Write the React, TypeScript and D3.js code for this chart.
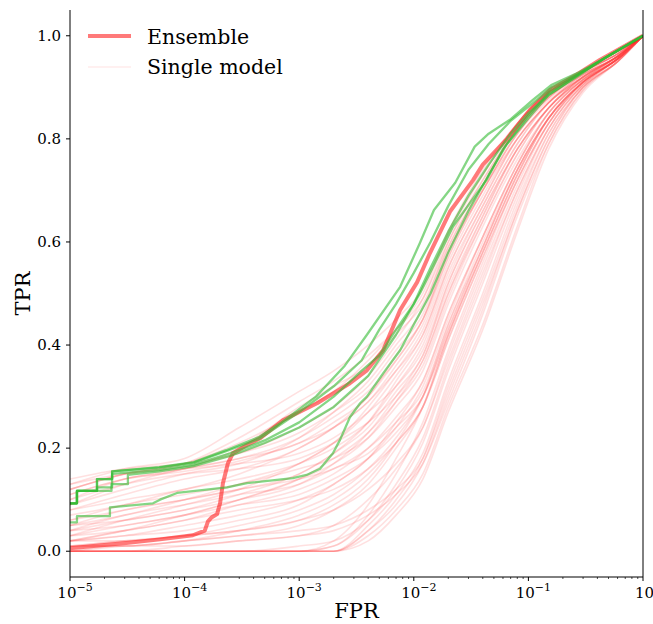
import React from "react";
import * as d3 from "d3";

// FPR grid used by the single-model curves
const fprGrid = [1e-5, 3e-5, 1e-4, 3e-4, 1e-3, 2e-3, 4e-3, 7e-3, 1.2e-2, 2e-2, 4e-2, 8e-2, 0.15, 0.3, 0.6, 1];

// TPR values of single models on fprGrid
const singleModels: number[][] = [
  [0.12,0.15,0.165,0.19,0.24,0.28,0.34,0.41,0.49,0.61,0.73,0.83,0.89,0.93,0.965,1],
  [0.10,0.14,0.16,0.18,0.22,0.26,0.31,0.37,0.45,0.58,0.70,0.81,0.88,0.925,0.96,1],
  [0.11,0.14,0.155,0.175,0.21,0.24,0.29,0.35,0.42,0.55,0.68,0.80,0.87,0.92,0.96,1],
  [0.09,0.12,0.15,0.17,0.22,0.27,0.33,0.40,0.47,0.60,0.72,0.82,0.885,0.93,0.965,1],
  [0.13,0.15,0.16,0.17,0.19,0.22,0.27,0.32,0.39,0.52,0.66,0.78,0.86,0.92,0.96,1],
  [0.08,0.11,0.14,0.16,0.20,0.24,0.29,0.36,0.44,0.57,0.70,0.81,0.875,0.925,0.96,1],
  [0.12,0.15,0.17,0.21,0.27,0.31,0.37,0.43,0.50,0.62,0.74,0.83,0.89,0.93,0.965,1],
  [0.10,0.13,0.15,0.16,0.18,0.21,0.25,0.30,0.37,0.50,0.64,0.77,0.86,0.915,0.96,1],
  [0.14,0.16,0.17,0.19,0.23,0.27,0.32,0.39,0.46,0.59,0.71,0.82,0.88,0.93,0.965,1],
  [0.09,0.13,0.16,0.18,0.21,0.25,0.30,0.38,0.45,0.58,0.70,0.80,0.87,0.92,0.96,1],
  [0.13,0.16,0.18,0.24,0.31,0.35,0.40,0.45,0.51,0.62,0.73,0.83,0.89,0.93,0.965,1],
  [0.12,0.15,0.17,0.22,0.29,0.33,0.38,0.43,0.49,0.60,0.72,0.82,0.885,0.93,0.965,1],
  [0.11,0.14,0.16,0.20,0.28,0.32,0.36,0.42,0.48,0.59,0.71,0.82,0.88,0.93,0.965,1],
  [0.05,0.07,0.10,0.13,0.17,0.21,0.27,0.34,0.42,0.55,0.68,0.80,0.87,0.925,0.96,1],
  [0.04,0.06,0.08,0.11,0.15,0.19,0.24,0.31,0.38,0.52,0.66,0.78,0.86,0.92,0.96,1],
  [0.06,0.09,0.11,0.13,0.16,0.18,0.22,0.28,0.35,0.48,0.63,0.76,0.85,0.915,0.96,1],
  [0.03,0.05,0.07,0.10,0.14,0.17,0.22,0.29,0.37,0.50,0.65,0.78,0.86,0.92,0.96,1],
  [0.07,0.09,0.12,0.14,0.17,0.20,0.25,0.32,0.40,0.53,0.67,0.79,0.87,0.92,0.96,1],
  [0.02,0.04,0.06,0.09,0.12,0.15,0.20,0.26,0.33,0.46,0.61,0.75,0.85,0.915,0.955,1],
  [0.05,0.08,0.10,0.12,0.14,0.16,0.20,0.25,0.31,0.44,0.60,0.74,0.84,0.91,0.955,1],
  [0.03,0.06,0.09,0.12,0.17,0.21,0.28,0.35,0.43,0.56,0.69,0.80,0.87,0.925,0.96,1],
  [0.04,0.05,0.07,0.09,0.11,0.14,0.18,0.23,0.30,0.43,0.59,0.74,0.84,0.91,0.955,1],
  [0.06,0.08,0.10,0.12,0.15,0.19,0.25,0.33,0.41,0.54,0.67,0.79,0.87,0.92,0.96,1],
  [0.02,0.03,0.05,0.07,0.10,0.13,0.18,0.24,0.32,0.45,0.61,0.75,0.85,0.915,0.955,1],
  [0.04,0.07,0.09,0.11,0.13,0.16,0.19,0.24,0.30,0.42,0.58,0.73,0.84,0.91,0.955,1],
  [0.08,0.10,0.12,0.15,0.20,0.24,0.30,0.37,0.45,0.57,0.70,0.81,0.88,0.925,0.96,1],
  [0.03,0.04,0.06,0.08,0.10,0.12,0.16,0.21,0.28,0.41,0.57,0.72,0.83,0.91,0.955,1],
  [0.05,0.06,0.08,0.10,0.13,0.17,0.23,0.30,0.38,0.51,0.65,0.78,0.86,0.92,0.96,1],
  [0.02,0.04,0.07,0.10,0.14,0.18,0.23,0.29,0.36,0.49,0.64,0.77,0.86,0.915,0.96,1],
  [0.01,0.02,0.03,0.05,0.08,0.11,0.16,0.22,0.30,0.43,0.59,0.74,0.84,0.91,0.955,1],
  [0.01,0.01,0.02,0.03,0.05,0.08,0.13,0.20,0.28,0.42,0.58,0.73,0.84,0.91,0.955,1],
  [0.00,0.01,0.02,0.04,0.07,0.10,0.15,0.21,0.28,0.41,0.57,0.72,0.83,0.91,0.955,1],
  [0.02,0.02,0.03,0.04,0.06,0.08,0.12,0.17,0.24,0.37,0.54,0.70,0.82,0.905,0.955,1],
  [0.00,0.00,0.00,0.00,0.00,0.02,0.09,0.18,0.28,0.42,0.58,0.73,0.84,0.91,0.955,1],
  [0.00,0.00,0.00,0.00,0.00,0.01,0.07,0.15,0.25,0.39,0.56,0.72,0.83,0.91,0.955,1],
  [0.00,0.00,0.00,0.00,0.00,0.01,0.06,0.13,0.22,0.36,0.53,0.70,0.82,0.905,0.955,1],
  [0.00,0.00,0.00,0.00,0.00,0.00,0.05,0.11,0.19,0.33,0.50,0.68,0.81,0.90,0.95,1],
  [0.00,0.00,0.00,0.00,0.00,0.00,0.04,0.09,0.17,0.30,0.47,0.66,0.80,0.90,0.95,1],
  [0.01,0.01,0.02,0.03,0.04,0.05,0.08,0.12,0.18,0.31,0.48,0.66,0.80,0.90,0.95,1],
  [0.00,0.00,0.01,0.02,0.03,0.04,0.07,0.11,0.17,0.29,0.46,0.65,0.79,0.895,0.95,1],
  [0.02,0.03,0.04,0.06,0.09,0.13,0.18,0.25,0.33,0.46,0.61,0.75,0.85,0.915,0.955,1],
  [0.00,0.00,0.00,0.00,0.00,0.00,0.03,0.08,0.15,0.28,0.44,0.63,0.79,0.895,0.95,1],
  [0.01,0.02,0.03,0.04,0.06,0.09,0.14,0.21,0.30,0.44,0.59,0.74,0.84,0.91,0.955,1],
  [0.00,0.00,0.00,0.00,0.00,0.00,0.02,0.07,0.14,0.27,0.43,0.62,0.78,0.89,0.95,1],
  [0.00,0.01,0.01,0.02,0.03,0.05,0.10,0.16,0.24,0.38,0.55,0.71,0.83,0.905,0.955,1],
  [0.00,0.00,0.00,0.00,0.00,0.00,0.04,0.10,0.18,0.32,0.49,0.67,0.81,0.90,0.95,1],
  [0.00,0.00,0.00,0.00,0.01,0.02,0.06,0.12,0.21,0.35,0.52,0.69,0.82,0.905,0.955,1],
];

// Ensemble ROC curve [FPR, TPR]
const ensemble: [number, number][] = [
  [1e-5,0.006],[1.6e-5,0.01],[3.1e-5,0.016],[6.1e-5,0.023],[1.18e-4,0.031],[1.5e-4,0.04],
  [1.6e-4,0.058],[1.73e-4,0.066],[1.92e-4,0.072],[2.04e-4,0.093],[2.16e-4,0.132],[2.39e-4,0.171],
  [2.64e-4,0.19],[3.5e-4,0.206],[4.55e-4,0.219],[7.2e-4,0.254],[1.43e-3,0.287],[2.77e-3,0.326],
  [3.9e-3,0.351],[5.4e-3,0.39],[7.6e-3,0.468],[1.07e-2,0.522],[1.38e-2,0.578],[2.07e-2,0.659],
  [3.29e-2,0.72],[4e-2,0.75],[6.5e-2,0.8],[0.103,0.856],[0.154,0.895],[0.265,0.925],[0.42,0.953],[1,1],
];

// Highlighted (green) model curves [FPR, TPR]
const greenA: [number, number][] = [
  [1e-5,0.093],[1.15e-5,0.093],[1.15e-5,0.117],[1.72e-5,0.117],[1.72e-5,0.14],[2.33e-5,0.14],[2.33e-5,0.155],
  [6e-5,0.163],[1.2e-4,0.173],[2.3e-4,0.196],[4.5e-4,0.222],[7e-4,0.25],[1.4e-3,0.3],[2.5e-3,0.36],
  [3.9e-3,0.42],[7.6e-3,0.513],[1.13e-2,0.598],[1.5e-2,0.662],[2.3e-2,0.715],[3.4e-2,0.785],[4.5e-2,0.81],
  [6.9e-2,0.837],[0.11,0.876],[0.16,0.905],[0.27,0.928],[0.45,0.955],[1,1],
];
const greenB: [number, number][] = [
  [1e-5,0.093],[1.15e-5,0.093],[1.15e-5,0.117],[1.72e-5,0.117],[1.72e-5,0.14],[2.33e-5,0.14],[2.33e-5,0.155],
  [6e-5,0.162],[1.2e-4,0.172],[2.3e-4,0.194],[4.5e-4,0.218],[1e-3,0.27],[2e-3,0.32],[3.5e-3,0.37],
  [5e-3,0.43],[7e-3,0.48],[1e-2,0.54],[1.4e-2,0.6],[2e-2,0.67],[3e-2,0.74],[4.5e-2,0.79],[7e-2,0.835],
  [0.11,0.87],[0.16,0.9],[0.27,0.925],[0.45,0.955],[1,1],
];
const greenC: [number, number][] = [
  [1e-5,0.093],[1.15e-5,0.093],[1.15e-5,0.117],[2.3e-5,0.117],[2.3e-5,0.13],[3.2e-5,0.13],[3.2e-5,0.148],
  [6e-5,0.155],[1.2e-4,0.165],[2.5e-4,0.185],[5e-4,0.21],[1e-3,0.24],[2e-3,0.28],[4e-3,0.34],
  [7e-3,0.42],[1.13e-2,0.5],[2.2e-2,0.63],[4.3e-2,0.72],[6e-2,0.78],[0.1,0.845],[0.15,0.89],
  [0.27,0.925],[0.45,0.955],[1,1],
];
const greenD: [number, number][] = [
  [1e-5,0.056],[1.15e-5,0.056],[1.15e-5,0.068],[2.23e-5,0.068],[2.23e-5,0.085],[5.3e-5,0.093],[6.1e-5,0.1],
  [8.6e-5,0.113],[2.34e-4,0.124],[3.5e-4,0.132],[8.8e-4,0.142],[1.16e-3,0.148],[1.52e-3,0.16],[1.97e-3,0.19],
  [2.27e-3,0.216],[2.77e-3,0.26],[3.4e-3,0.287],[3.9e-3,0.3],[5.4e-3,0.345],[7.6e-3,0.39],[1e-2,0.44],
  [1.4e-2,0.5],[2e-2,0.58],[3e-2,0.66],[4.5e-2,0.73],[6.5e-2,0.79],[0.1,0.84],[0.15,0.885],[0.27,0.922],
  [0.45,0.955],[1,1],
];
const greenE: [number, number][] = [
  [1e-5,0.093],[1.15e-5,0.093],[1.15e-5,0.117],[1.72e-5,0.117],[1.72e-5,0.124],[2.33e-5,0.124],[2.33e-5,0.15],
  [6e-5,0.158],[1.2e-4,0.168],[2.5e-4,0.19],[5e-4,0.215],[1e-3,0.25],[2e-3,0.3],[3.5e-3,0.35],
  [5e-3,0.38],[7e-3,0.43],[1e-2,0.48],[1.4e-2,0.55],[2e-2,0.62],[3e-2,0.69],[4.5e-2,0.75],[7e-2,0.81],
  [0.1,0.85],[0.15,0.885],[0.27,0.923],[0.45,0.955],[1,1],
];
const greenCurves = [greenA, greenB, greenC, greenD, greenE];

const xTickExps = [-5, -4, -3, -2, -1, 0];
const yTicks = [0.0, 0.2, 0.4, 0.6, 0.8, 1.0];
const legendLabels = ["Ensemble", "Single model"];

const W = 653, H = 624;
const M = { left: 70, right: 643, top: 10, bottom: 577 };

export default function App() {
  const x = d3.scaleLog().domain([1e-5, 1]).range([M.left, M.right]);
  const y = d3.scaleLinear().domain([-0.05, 1.05]).range([M.bottom, M.top]);

  const smooth = d3.line<[number, number]>().x(d => x(d[0])).y(d => y(d[1])).curve(d3.curveMonotoneX);
  const lin = d3.line<[number, number]>().x(d => x(d[0])).y(d => y(d[1]));

  const minorTicks: number[] = [];
  for (let e = -5; e < 0; e++) for (let k = 2; k <= 9; k++) minorTicks.push(k * Math.pow(10, e));

  const font = "'DejaVu Serif', serif";

  return (
    <svg width={W} height={H} style={{ position: "absolute", left: 0, top: 0, background: "#fff" }} fontFamily={font}>
      <defs>
        <clipPath id="plot">
          <rect x={M.left} y={M.top} width={M.right - M.left} height={M.bottom - M.top} />
        </clipPath>
      </defs>
      <g clipPath="url(#plot)">
        {singleModels.map((vals, i) => (
          <path key={i} d={smooth(fprGrid.map((f, j) => [f, vals[j]] as [number, number])) || ""}
            fill="none" stroke="rgb(255,60,60)" strokeOpacity={0.16} strokeWidth={1.6} />
        ))}
        <path d={lin(ensemble) || ""} fill="none" stroke="rgb(255,0,0)" strokeOpacity={0.52} strokeWidth={4} strokeLinejoin="round" />
        {greenCurves.map((c, i) => (
          <path key={i} d={lin(c) || ""} fill="none" stroke="#33bb33" strokeOpacity={0.6} strokeWidth={2.3} strokeLinejoin="round" />
        ))}
      </g>
      {/* spines */}
      <line x1={M.left} x2={M.left} y1={M.top} y2={M.bottom} stroke="#000" strokeWidth={1} />
      <line x1={M.left} x2={M.right} y1={M.bottom} y2={M.bottom} stroke="#000" strokeWidth={1} />
      <line x1={M.right} x2={M.right} y1={M.top} y2={M.bottom} stroke="#000" strokeWidth={1} />
      {/* y ticks */}
      {yTicks.map(t => (
        <g key={t}>
          <line x1={M.left - 4} x2={M.left} y1={y(t)} y2={y(t)} stroke="#000" />
          <text x={M.left - 9} y={y(t)} dy="0.35em" textAnchor="end" fontSize={15}>{t.toFixed(1)}</text>
        </g>
      ))}
      {/* x ticks */}
      {minorTicks.map(t => (
        <line key={t} x1={x(t)} x2={x(t)} y1={M.bottom} y2={M.bottom + 2} stroke="#000" strokeWidth={0.7} />
      ))}
      {xTickExps.map(e => (
        <g key={e}>
          <line x1={x(Math.pow(10, e))} x2={x(Math.pow(10, e))} y1={M.bottom} y2={M.bottom + 4} stroke="#000" />
          <text x={x(Math.pow(10, e)) + 5} y={M.bottom + 21} textAnchor="middle" fontSize={15}>
            10<tspan dy={-7} fontSize={11}>{e === 0 ? "0" : "\u2212" + Math.abs(e)}</tspan>
          </text>
        </g>
      ))}
      <text x={(M.left + M.right) / 2} y={H - 6} textAnchor="middle" fontSize={21}>FPR</text>
      <text transform={`translate(30,${(M.top + M.bottom) / 2}) rotate(-90)`} textAnchor="middle" fontSize={21}>TPR</text>
      {/* legend */}
      <line x1={88} x2={131} y1={36} y2={36} stroke="rgb(255,0,0)" strokeOpacity={0.52} strokeWidth={4} />
      <text x={147} y={44} fontSize={20.5}>{legendLabels[0]}</text>
      <line x1={88} x2={131} y1={67} y2={67} stroke="rgb(255,60,60)" strokeOpacity={0.1} strokeWidth={1.5} />
      <text x={147} y={74} fontSize={20.5}>{legendLabels[1]}</text>
    </svg>
  );
}
